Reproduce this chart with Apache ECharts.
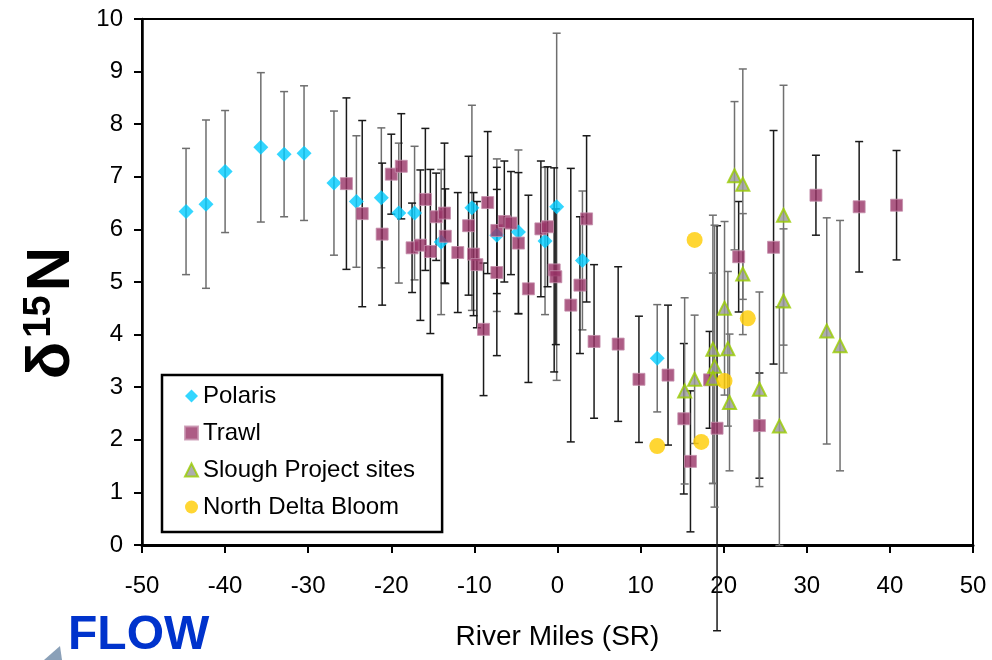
<!DOCTYPE html>
<html><head><meta charset="utf-8">
<script src="https://cdn.jsdelivr.net/npm/echarts/dist/echarts.min.js"></script>
<style>html,body{margin:0;padding:0;background:#fff}#c{width:992px;height:660px}</style>
</head><body><div id="c"></div>
<script>
// ---- Data (river mile, delta15N, error half-width) ----
const polarisX = [-44.7,-42.3,-40.0,-35.7,-32.9,-30.5,-26.9,-24.2,-21.2,-19.1,-17.2,-14.0,-10.3,-7.3,-4.7,-1.5,-0.1,3.0,12.0];
const polarisY = [6.34,6.48,7.10,7.56,7.43,7.45,6.88,6.53,6.60,6.31,6.31,5.76,6.41,5.89,5.95,5.78,6.43,5.41,3.55];
const polarisE = [1.20,1.60,1.16,1.42,1.19,1.28,1.37,1.25,1.33,1.33,1.27,1.38,1.95,1.45,1.56,1.40,3.30,1.32,1.02];

const trawlX = [-25.4,-23.5,-21.1,-20.0,-18.8,-17.5,-16.5,-15.9,-15.3,-14.6,-13.6,-13.5,-12.0,-10.7,-10.1,-9.7,-8.9,-8.4,-7.3,-7.3,-6.4,-5.6,-4.7,-3.5,-2.0,-1.2,-0.4,-0.2,1.6,2.7,3.5,4.4,7.3,9.8,13.3,15.2,16.0,18.3,19.2,21.8,26.0,31.1,24.3,36.3,40.8];
const trawlY = [6.87,6.30,5.91,7.05,7.20,5.65,5.70,6.57,5.58,6.24,6.31,5.87,5.56,6.07,5.53,5.33,4.10,6.51,5.98,5.18,6.15,6.12,5.74,4.87,6.01,6.05,5.23,5.10,4.56,4.94,6.20,3.87,3.82,3.15,3.23,2.40,1.59,3.14,2.22,5.48,5.66,6.65,2.27,6.43,6.46];
const trawlE = [1.63,1.77,1.35,0.76,1.00,0.85,1.43,1.35,1.56,0.83,1.33,0.90,1.14,1.32,1.17,1.20,1.26,1.35,1.20,1.58,1.15,0.98,1.34,1.78,1.29,1.14,1.94,1.29,2.60,1.30,1.58,1.46,1.47,1.20,1.33,1.43,1.34,0.92,3.85,1.05,2.22,0.76,1.00,1.24,1.04];

const sloughX = [15.3,16.5,18.7,18.9,18.7,20.1,20.5,20.7,21.3,22.3,22.3,27.2,27.2,32.4,34.0,26.7,24.3];
const sloughY = [2.93,3.15,3.72,3.40,3.17,4.50,3.73,2.71,7.02,6.86,5.15,6.27,4.64,4.07,3.79,2.26,2.96];
const sloughE = [1.77,1.22,2.55,2.68,2.00,1.65,1.47,1.30,1.41,2.19,1.15,2.47,1.37,2.15,2.38,2.27,1.85];

const bloomX = [12.0,16.5,17.3,20.1,22.9];
const bloomY = [1.88,5.80,1.96,3.12,4.31];

const xTicks = {min:-50, max:50, interval:10};
const yTicks = {min:0, max:10, interval:1};

function zip3(a,b,c){ return a.map((v,i)=>[v,b[i],c ? c[i] : 0]); }

function errSeries(xs, ys, es, color){
  return {
    type:'custom', silent:true, z:1, clip:false,
    data: zip3(xs, ys, es),
    encode:{x:0, y:1},
    renderItem: function(params, api){
      const x = api.value(0), y = api.value(1), e = api.value(2);
      const t = api.coord([x, y + e]);
      const b = api.coord([x, y - e]);
      const hw = 4;
      const st = {stroke: color, lineWidth: 1.5};
      return {type:'group', children:[
        {type:'line', shape:{x1:t[0], y1:t[1], x2:b[0], y2:b[1]}, style:st},
        {type:'line', shape:{x1:t[0]-hw, y1:t[1], x2:t[0]+hw, y2:t[1]}, style:st},
        {type:'line', shape:{x1:b[0]-hw, y1:b[1], x2:b[0]+hw, y2:b[1]}, style:st}
      ]};
    }
  };
}

const FONT = 'Liberation Sans, Arial, sans-serif';
const chart = echarts.init(document.getElementById('c'), null, {renderer:'canvas'});
chart.setOption({
  animation:false,
  backgroundColor:'#fff',
  grid:{left:142, right:19, top:19, bottom:115, show:true, borderColor:'#000', borderWidth:2,
        backgroundColor:'transparent', containLabel:false, outerBoundsMode:'none'},
  xAxis:{
    type:'value', min:xTicks.min, max:xTicks.max, interval:xTicks.interval,
    name:'River Miles (SR)', nameLocation:'middle', nameGap:78,
    nameTextStyle:{fontFamily:FONT, fontSize:28, color:'#000'},
    axisLine:{show:true, onZero:false, lineStyle:{color:'#000', width:3}},
    axisTick:{show:true, inside:false, length:8, lineStyle:{color:'#000', width:2}},
    axisLabel:{fontFamily:FONT, fontSize:24, color:'#000', margin:29},
    splitLine:{show:false}
  },
  yAxis:{
    type:'value', min:yTicks.min, max:yTicks.max, interval:yTicks.interval,
    axisLine:{show:true, onZero:false, lineStyle:{color:'#000', width:2.5}},
    axisTick:{show:true, inside:false, length:8, lineStyle:{color:'#000', width:2}},
    axisLabel:{fontFamily:FONT, fontSize:24, color:'#000', margin:19},
    splitLine:{show:false}
  },
  legend:{
    orient:'vertical', left:162, top:375,
    data:['Polaris','Trawl','Slough Project sites','North Delta Bloom'],
    backgroundColor:'#fff', borderColor:'#000', borderWidth:2.5,
    padding:[7,27,11,22], itemGap:9, itemWidth:13, itemHeight:13,
    textStyle:{fontFamily:FONT, fontSize:24, color:'#000', lineHeight:28},
    selectedMode:false
  },
  graphic:[
    {type:'text', x:52, y:313, rotation:Math.PI/2,
     style:{text:'{d|δ}{s|15}{d|N}', x:0, y:0, align:'center', verticalAlign:'middle',
       rich:{d:{fontFamily:FONT, fontSize:62, fontWeight:'bold', fill:'#000', verticalAlign:'bottom', padding:[0,2,0,2]},
             s:{fontFamily:FONT, fontSize:38, fontWeight:'bold', fill:'#000', verticalAlign:'top', padding:[0,2,0,2]}}}},
    {type:'text', x:68, y:612, style:{text:'FLOW', fontFamily:FONT, fontSize:48, fontWeight:'bold', fill:'#0033cc'}},
    {type:'polygon', shape:{points:[[44,660],[60,646],[62,660]]}, style:{fill:'#8aa0b8'}}
  ],
  series:[
    errSeries(polarisX, polarisY, polarisE, '#6e6e6e'),
    errSeries(trawlX, trawlY, trawlE, '#1a1a1a'),
    errSeries(sloughX, sloughY, sloughE, '#707070'),
    {name:'Polaris', type:'scatter', z:3, symbol:'diamond', symbolSize:15,
     itemStyle:{color:'#00ccff'}, data: polarisX.map((v,i)=>[v, polarisY[i]])},
    {name:'Trawl', type:'scatter', z:3, symbol:'rect', symbolSize:12,
     itemStyle:{color:'#993366', borderColor:'#c690ad', borderWidth:1}, data: trawlX.map((v,i)=>[v, trawlY[i]])},
    {name:'Slough Project sites', type:'scatter', z:3, symbol:'triangle', symbolSize:13,
     itemStyle:{color:'#999999', borderColor:'#99cc00', borderWidth:2}, data: sloughX.map((v,i)=>[v, sloughY[i]])},
    {name:'North Delta Bloom', type:'scatter', z:3, symbol:'circle', symbolSize:16,
     itemStyle:{color:'#ffcc00'}, data: bloomX.map((v,i)=>[v, bloomY[i]])}
  ]
});
</script></body></html>
